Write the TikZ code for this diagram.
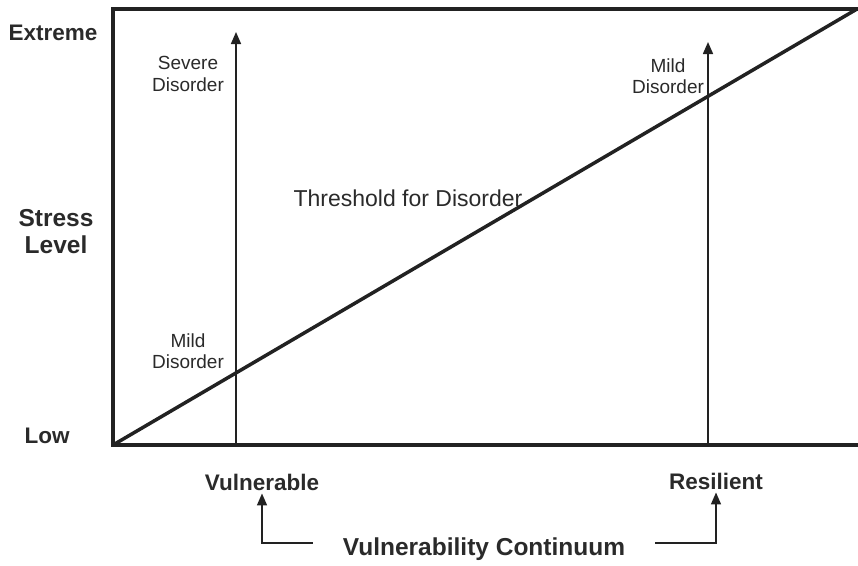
\documentclass[tikz,border=0pt]{standalone}
\usepackage{fontspec}
\setmainfont{Liberation Sans}
\usetikzlibrary{arrows.meta,calc}
\definecolor{ink}{HTML}{222222}
\definecolor{txt}{HTML}{2A2A2A}
\tikzset{
  frame/.style={line width=3.2pt,draw=ink},
  diag/.style={line width=3.5pt,draw=ink,line cap=round},
  uparrow/.style={line width=1.6pt,draw=ink,-{Triangle[length=12pt,width=10pt]}},
  axislab/.style={font=\fontsize{22.5}{24}\selectfont\bfseries,text=txt,inner sep=0pt},
  biglab/.style={font=\fontsize{24.5}{27}\selectfont\bfseries,text=txt,inner sep=0pt,align=center},
  smalllab/.style={font=\fontsize{19}{21.5}\selectfont,text=txt,inner sep=0pt,align=center},
  midlab/.style={font=\fontsize{23}{25}\selectfont,text=txt,inner sep=0pt},
}
\begin{document}
\begin{tikzpicture}[x=1pt,y=-1pt]
\useasboundingbox (0,0) rectangle (858,565);
\coordinate (tl) at (113,9);
\coordinate (bl) at (113,445);
\coordinate (tr) at (858,9);
\coordinate (br) at (858,445);
\coordinate (dend) at (857,9);
\draw[frame] (tr) -- (tl) -- (bl) -- (br);
\draw[diag] (bl) -- (dend);
% vertical arrows
\coordinate (a1b) at (236,445);
\coordinate (a1t) at (236,32);
\coordinate (a2b) at (708,445);
\coordinate (a2t) at (708,42);
\draw[uparrow] (a1b) -- (a1t);
\draw[uparrow] (a2b) -- (a2t);
% y-axis labels
\node[axislab] (ext) at (53,33) {Extreme};
\node[biglab] (stress) at (56,232) {Stress\\Level};
\node[axislab] (low) at (47,436) {Low};
% in-plot labels
\node[smalllab] (sev) at (188,74) {Severe\\Disorder};
\node[smalllab] (mildr) at (668,76) {Mild\\Disorder};
\node[smalllab] (mildl) at (188,351) {Mild\\Disorder};
\node[midlab] (thr) at (408,198) {Threshold for Disorder};
% x-axis labels
\node[axislab] (vul) at (262,482) {Vulnerable};
\node[axislab] (res) at (716,481) {Resilient};
\node[biglab] (vc) at (484,549) {Vulnerability Continuum};
\draw[uparrow] ([xshift=-30pt,yshift=6pt]vc.west) -| ([yshift=-3pt]vul.south);
\draw[uparrow] ([xshift=30pt,yshift=6pt]vc.east) -| ([yshift=-3pt]res.south);
\end{tikzpicture}
\end{document}
